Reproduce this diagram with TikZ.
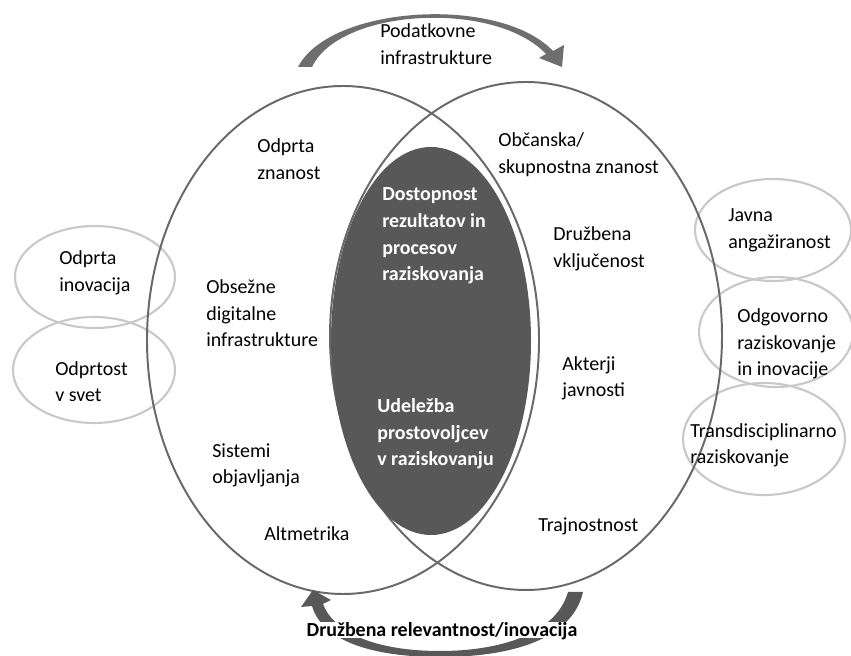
\documentclass[tikz,border=0pt]{standalone}
\usepackage{fontspec}
\setmainfont{Carlito}
\usepackage{tikz}
\definecolor{rimgray}{RGB}{105,105,105}
\definecolor{ringgray}{RGB}{200,200,200}
\definecolor{coregray}{RGB}{88,88,88}
\definecolor{arrowgray}{RGB}{110,110,110}
\tikzset{
    txt/.style={anchor=base west, align=left, inner sep=0pt,
    	font=\fontsize{14.2}{19.2}\selectfont},
    coretxt/.style={txt, text=white,
    	font=\bfseries\fontsize{14.2}{19.2}\selectfont},
    ring/.style={draw=ringgray, line width=1.5pt},
    rim/.style={draw=rimgray, line width=1.4pt}
}

\begin{document}
\begin{tikzpicture}
	\useasboundingbox (0cm, 0cm) rectangle (21.275cm, 16.4cm);

	% outer rings
	\draw[ring] (2.375cm, 9.475cm) ellipse (2.0cm and 1.275cm);
	\draw[ring] (2.35cm, 7.15cm) ellipse (2.025cm and 1.325cm);
	\draw[ring] (19.325cm, 10.65cm) ellipse (1.95cm and 1.275cm);
	\draw[ring] (19.4cm, 8.1cm) ellipse (1.925cm and 1.375cm);
	\draw[ring] (19.1cm, 5.425cm) ellipse (2.025cm and 1.4cm);

	% the two big ellipses and the core
	\draw[rim] (8.575cm, 7.9cm) ellipse (4.9cm and 6.35cm);
	\draw[rim] (13.15cm, 8.0cm) ellipse (4.9cm and 6.35cm);
	\fill[coregray] (10.775cm, 7.875cm) ellipse (2.5cm and 4.85cm);

	% arrows
	\fill[arrowgray] (7.45cm, 14.725cm) .. controls (8.25cm, 16.275cm) and (12.5cm, 16.525cm) .. (13.825cm, 15.125cm)
		-- (14.1cm, 15.275cm) -- (14.05cm, 14.725cm) -- (13.475cm, 14.95cm) -- (13.65cm, 15.05cm)
		.. controls (12.375cm, 16.4cm) and (8.5cm, 16.2cm) .. (7.8cm, 14.725cm) -- cycle;
	\fill[arrowgray!80!black] (14.575cm, 1.6cm) .. controls (14.3cm, 0.4cm) and (12.75cm, -0.025cm) .. (11.0cm, -0.025cm)
		.. controls (9.25cm, -0.025cm) and (8.05cm, 0.4cm) .. (7.8cm, 1.25cm)
		-- (7.525cm, 1.225cm) -- (7.825cm, 1.65cm) -- (8.275cm, 1.4cm) -- (8.075cm, 1.3cm)
		.. controls (8.375cm, 0.525cm) and (9.5cm, 0.125cm) .. (11.0cm, 0.125cm)
		.. controls (12.5cm, 0.125cm) and (13.9cm, 0.55cm) .. (14.2cm, 1.6cm) -- cycle;

	% labels (anchored at the baseline of the last line)
	\node (podat) [txt] at (9.5cm, 14.775cm) {Podatkovne\\infrastrukture};
	\node (rel) [anchor=base, fill=white, inner sep=1pt, text depth=0pt,
		font=\bfseries\fontsize{14.2}{19.2}\selectfont] at (11.05cm, 0.475cm) {Družbena relevantnost/inovacija};

	\node (znan) [txt] at (6.425cm, 11.9cm) {Odprta\\znanost};
	\node (obsez) [txt] at (5.15cm, 7.725cm) {Obsežne\\digitalne\\infrastrukture};
	\node (sist) [txt] at (5.3cm, 4.3cm) {Sistemi\\objavljanja};
	\node (altm) [txt] at (6.6cm, 2.875cm) {Altmetrika};

	\node (obcan) [txt] at (12.45cm, 12.05cm) {Občanska/\\skupnostna znanost};
	\node (vklj) [txt] at (13.825cm, 9.7cm) {Družbena\\vključenost};
	\node (akter) [txt] at (14.05cm, 6.475cm) {Akterji\\javnosti};
	\node (trajn) [txt] at (13.45cm, 3.1cm) {Trajnostnost};

	\node (dostop) [coretxt] at (9.55cm, 9.375cm) {Dostopnost\\rezultatov in\\procesov\\raziskovanja};
	\node (udel) [coretxt] at (9.425cm, 4.75cm) {Udeležba\\prostovoljcev\\v raziskovanju};

	\node (inov) [txt] at (1.475cm, 9.1cm) {Odprta\\inovacija};
	\node (svet) [txt] at (1.375cm, 6.35cm) {Odprtost\\v svet};
	\node (javna) [txt] at (18.2cm, 10.175cm) {Javna\\angažiranost};
	\node (odgov) [txt] at (18.425cm, 7.0cm) {Odgovorno\\raziskovanje\\in inovacije};
	\node (trans) [txt] at (17.25cm, 4.8cm) {Transdisciplinarno\\raziskovanje};
\end{tikzpicture}
\end{document}
